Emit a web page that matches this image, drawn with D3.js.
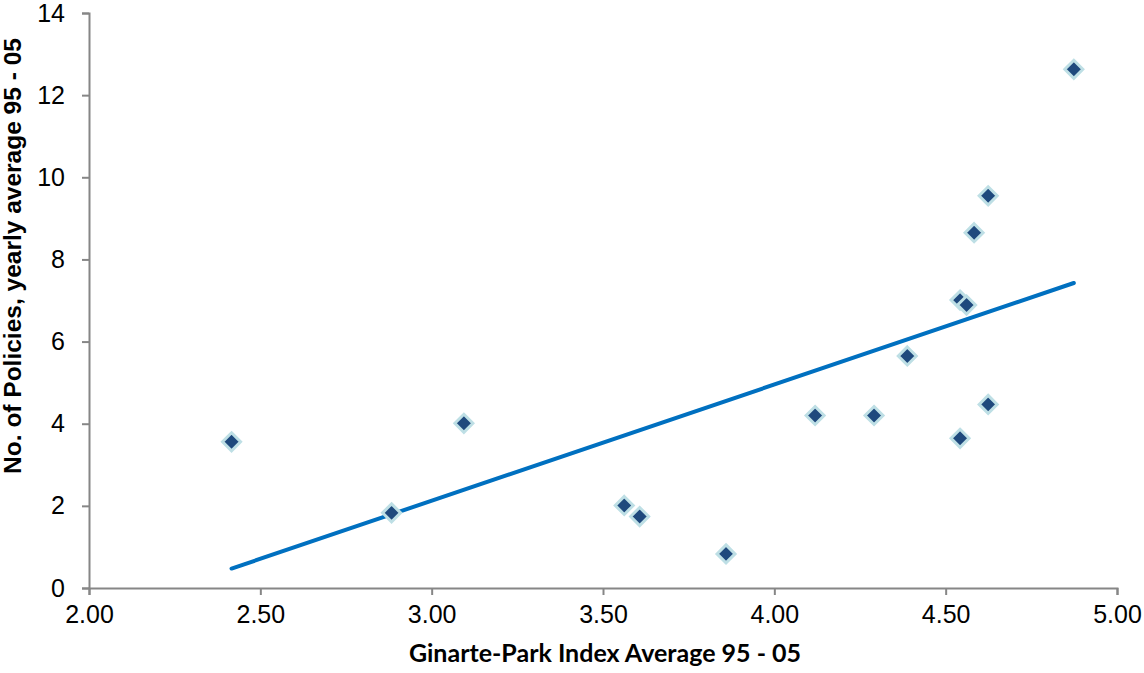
<!DOCTYPE html>
<html>
<head>
<meta charset="utf-8">
<script src="https://cdn.jsdelivr.net/npm/d3@7"></script>
<style>
  body { margin: 0; background: #fff; }
  svg { display: block; }
</style>
</head>
<body>
<svg id="chart" width="1144" height="673"></svg>
<script>
// values
const indexAvg = [2.416, 2.883, 3.094, 3.562, 3.607, 3.859, 4.119, 4.291,
                  4.388, 4.542, 4.561, 4.542, 4.583, 4.624, 4.624, 4.874];
const policiesAvg = [3.56, 1.83, 4.01, 2.01, 1.74, 0.83, 4.20, 4.20,
                     5.65, 7.01, 6.89, 3.645, 8.65, 9.55, 4.47, 12.63];
const xTicks = [2.0, 2.5, 3.0, 3.5, 4.0, 4.5, 5.0];
const yTicks = [0, 2, 4, 6, 8, 10, 12, 14];
const xTitle = "Ginarte-Park Index Average 95 - 05";
const yTitle = "No. of Policies, yearly average 95 - 05";

const points = indexAvg.map((x, i) => ({x: x, y: policiesAvg[i]}));

const svg = d3.select("#chart");
const margin = {top: 13, right: 27, bottom: 85, left: 89};
const width = 1144, height = 673;

let x = d3.scaleLinear().domain([2, 5]).range([margin.left, width - margin.right]);
let y = d3.scaleLinear().domain([0, 14]).range([height - margin.bottom, margin.top]);

const axisColor = "#868686";

// x axis
let gx = svg.append("g")
    .attr("transform", `translate(0,${height - margin.bottom})`)
    .call(d3.axisBottom(x).tickValues(xTicks).tickFormat(d3.format(".2f")).tickSizeOuter(0).tickSize(7).tickPadding(10));
gx.select(".domain").attr("stroke", axisColor).attr("stroke-width", 2);
gx.selectAll(".tick line").attr("stroke", axisColor).attr("stroke-width", 2);
gx.selectAll(".tick text")
    .attr("font-family", "Liberation Sans, Arial, sans-serif")
    .attr("font-size", 25).attr("fill", "#000");

// y axis
let gy = svg.append("g")
    .attr("transform", `translate(${margin.left},0)`)
    .call(d3.axisLeft(y).tickValues(yTicks).tickSizeOuter(0).tickSize(7).tickPadding(17));
gy.select(".domain").attr("stroke", axisColor).attr("stroke-width", 2);
gy.selectAll(".tick line").attr("stroke", axisColor).attr("stroke-width", 2);
gy.selectAll(".tick text")
    .attr("font-family", "Liberation Sans, Arial, sans-serif")
    .attr("font-size", 25).attr("fill", "#000");

// linear trend line (least squares), drawn across the data range
const mx = d3.mean(points, d => d.x), my = d3.mean(points, d => d.y);
const slope = d3.sum(points, d => (d.x - mx) * (d.y - my)) / d3.sum(points, d => (d.x - mx) ** 2);
const icpt = my - slope * mx;
const [x0, x1] = d3.extent(points, d => d.x);

svg.append("line")
    .attr("x1", x(x0)).attr("y1", y(icpt + slope * x0))
    .attr("x2", x(x1)).attr("y2", y(icpt + slope * x1))
    .attr("stroke", "#0070C0")
    .attr("stroke-width", 4)
    .attr("stroke-linecap", "round");

// diamond markers
const r = 9;
svg.append("g").selectAll("path")
    .data(points)
    .join("path")
    .attr("d", `M0,${-r}L${r},0L0,${r}L${-r},0Z`)
    .attr("transform", d => `translate(${x(d.x)},${y(d.y)})`)
    .attr("fill", "#1F497D")
    .attr("stroke", "#BEDFE5")
    .attr("stroke-width", 3);

// titles
svg.append("text")
    .attr("x", (margin.left + width - margin.right) / 2 + 2)
    .attr("y", 662)
    .attr("text-anchor", "middle")
    .attr("font-family", "Lato, Calibri, sans-serif")
    .attr("font-weight", "bold")
    .attr("font-size", 25)
    .text(xTitle);

svg.append("text")
    .attr("transform", "translate(21,256) rotate(-90)")
    .attr("text-anchor", "middle")
    .attr("font-family", "Liberation Sans, Arial, sans-serif")
    .attr("font-weight", "bold")
    .attr("font-size", 24.5)
    .text(yTitle);
</script>
</body>
</html>
